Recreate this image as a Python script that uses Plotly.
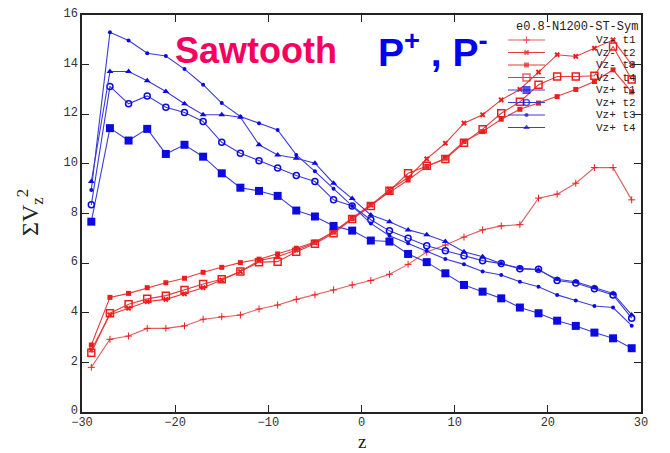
import plotly.graph_objects as go

# Position along z (bin centres)
z = list(range(-29, 30, 2))

# Sigma Vz^2 for the negative-velocity populations (Vz-)
vzm_t1 = [1.80, 2.93, 3.06, 3.37, 3.37, 3.47, 3.74, 3.84, 3.91, 4.15, 4.31, 4.54, 4.72, 4.92, 5.12,
          5.30, 5.55, 5.95, 6.45, 6.73, 7.05, 7.34, 7.50, 7.55, 8.62, 8.78, 9.22, 9.85, 9.85, 8.55]
vzm_t2 = [2.50, 3.92, 4.18, 4.45, 4.54, 4.76, 5.01, 5.32, 5.66, 6.10, 6.26, 6.53, 6.82, 7.27, 7.80,
          8.35, 8.95, 9.45, 10.20, 10.83, 11.64, 11.98, 12.58, 13.00, 13.70, 14.40, 14.33, 14.66, 15.00, 14.00]
vzm_t3 = [2.70, 4.62, 4.78, 5.01, 5.21, 5.39, 5.63, 5.83, 6.02, 6.16, 6.37, 6.60, 6.85, 7.25, 7.80,
          8.35, 8.85, 9.35, 9.90, 10.23, 10.90, 11.30, 11.80, 12.20, 12.45, 12.71, 13.00, 13.32, 13.79, 12.90]
vzm_t4 = [2.39, 3.98, 4.34, 4.56, 4.69, 4.92, 5.16, 5.35, 5.66, 6.04, 6.06, 6.46, 6.78, 7.20, 7.78,
          8.30, 8.92, 9.62, 9.92, 10.20, 10.85, 11.40, 12.04, 12.50, 13.19, 13.52, 13.52, 13.55, 14.73, 13.40]

# Sigma Vz^2 for the positive-velocity populations (Vz+)
vzp_t1 = [7.67, 11.44, 10.94, 11.41, 10.40, 10.77, 10.29, 9.62, 9.04, 8.91, 8.71, 8.12, 7.88, 7.50, 7.31,
          6.91, 6.87, 6.37, 6.04, 5.59, 5.12, 4.85, 4.58, 4.21, 3.98, 3.68, 3.47, 3.20, 2.97, 2.57]
vzp_t2 = [8.35, 13.12, 12.42, 12.74, 12.28, 12.07, 11.71, 10.87, 10.43, 10.13, 9.83, 9.53, 9.29, 8.55, 8.30,
          7.75, 7.30, 7.00, 6.70, 6.50, 6.30, 6.10, 5.98, 5.77, 5.75, 5.30, 5.20, 4.97, 4.72, 3.78]
vzp_t3 = [8.95, 15.30, 14.97, 14.46, 14.35, 13.82, 13.19, 12.45, 11.91, 11.64, 11.37, 10.36, 9.70, 9.00, 8.30,
          7.60, 7.10, 6.80, 6.50, 6.17, 5.95, 5.66, 5.52, 5.25, 5.05, 4.72, 4.49, 4.27, 4.21, 3.48]
vzp_t4 = [9.29, 13.72, 13.72, 13.35, 12.92, 12.42, 11.98, 11.98, 11.88, 10.77, 10.36, 10.23, 10.03, 9.22, 8.60,
          7.94, 7.67, 7.34, 7.14, 6.87, 6.46, 6.26, 5.98, 5.80, 5.72, 5.35, 5.25, 5.02, 4.78, 3.91]

names = ["Vz- t1", "Vz- t2", "Vz- t3", "Vz- t4", "Vz+ t1", "Vz+ t2", "Vz+ t3", "Vz+ t4"]
series = [vzm_t1, vzm_t2, vzm_t3, vzm_t4, vzp_t1, vzp_t2, vzp_t3, vzp_t4]

RED_LINE = "rgb(228,60,60)"
RED = "rgb(235,30,30)"
BLUE_LINE = "rgb(60,60,215)"
BLUE = "rgb(10,10,225)"

styles = [
    dict(lc="rgb(225,95,95)", m=dict(symbol="cross-thin", size=5, color=RED, line=dict(color=RED, width=1))),
    dict(lc=RED_LINE, m=dict(symbol="x", size=5, color=RED, line=dict(width=0))),
    dict(lc=RED_LINE, m=dict(symbol="square", size=5, color=RED, line=dict(width=0))),
    dict(lc=RED_LINE, m=dict(symbol="square-open", size=7, color=RED, line=dict(color=RED, width=1.5))),
    dict(lc=BLUE_LINE, m=dict(symbol="square", size=8, color=BLUE, line=dict(width=0))),
    dict(lc=BLUE_LINE, m=dict(symbol="circle-open", size=6, color=BLUE, line=dict(color=BLUE, width=1.5))),
    dict(lc=BLUE_LINE, m=dict(symbol="circle", size=4, color=BLUE, line=dict(width=0))),
    dict(lc=BLUE_LINE, m=dict(symbol="triangle-up", size=6, color=BLUE, line=dict(width=0))),
]

fig = go.Figure()

for name, vals, st in zip(names, series, styles):
    fig.add_trace(go.Scatter(
        x=z, y=vals, mode="lines+markers", name=name,
        line=dict(color=st["lc"], width=1.1),
        marker=st["m"], showlegend=False,
    ))

# Frame geometry (pixels) and helpers to place items in frame units
W, H = 670, 453
L, R, T, B = 82, 29, 15, 41
pw, ph = W - L - R, H - T - B


def fx(px):
    return (px - L) / pw


def fy(py):
    return (H - B - py) / ph


# Key in the upper right corner of the frame, drawn on an overlay axis
key_rows = [40, 52.5, 65, 77.5, 90, 102.5, 115, 127.5]
for name, st, py in zip(names, styles, key_rows):
    yk = fy(py)
    fig.add_trace(go.Scatter(
        x=[fx(508), fx(526.5), fx(545)], y=[yk, yk, yk],
        mode="lines+markers", xaxis="x2", yaxis="y2", showlegend=False, hoverinfo="skip",
        line=dict(color=st["lc"], width=1.1),
        marker=dict(st["m"], size=[0, st["m"]["size"], 0]),
    ))
    fig.add_annotation(
        x=fx(638), y=yk, xref="x2", yref="y2", text=name, showarrow=False,
        xanchor="right", yanchor="middle",
        font=dict(family="Liberation Mono", size=11, color="#222"),
    )

fig.add_annotation(
    x=fx(640), y=fy(27), xref="x2", yref="y2", text="e0.8-N1200-ST-Sym", showarrow=False,
    xanchor="right", yanchor="middle",
    font=dict(family="Liberation Mono", size=12, color="#222"),
)

# Headline labels
fig.add_annotation(
    x=fx(173), y=fy(51), xref="paper", yref="paper", text="<b>Sawtooth</b>", showarrow=False,
    xanchor="left", yanchor="middle",
    font=dict(family="Liberation Sans", size=36, color="rgb(245,0,95)"),
)

fig.add_annotation(
    x=fx(376), y=fy(49), xref="paper", yref="paper",
    text="<b>P<sup>+</sup> , P<sup>-</sup></b>", showarrow=False,
    xanchor="left", yanchor="middle",
    font=dict(family="Liberation Sans", size=39, color="rgb(0,0,245)"),
)

# Axis titles
fig.add_annotation(
    x=fx(362), y=fy(442), xref="paper", yref="paper", text="z", showarrow=False,
    xanchor="center", yanchor="middle", borderpad=0,
    font=dict(family="Liberation Serif", size=19, color="#222"),
)
fig.add_annotation(
    x=fx(30), y=fy(213), xref="paper", yref="paper",
    text="ΣV<sub>z</sub><sup>2</sup>", showarrow=False, textangle=-90,
    xanchor="center", yanchor="middle",
    font=dict(family="Liberation Serif", size=24, color="#222"),
)

tick_font = dict(family="Liberation Mono", size=12, color="#333")

fig.update_layout(
    width=W, height=H,
    margin=dict(l=L, r=R, t=T, b=B, autoexpand=False),
    paper_bgcolor="white", plot_bgcolor="white",
    showlegend=False,
    xaxis=dict(
        range=[-30, 30], tickvals=[-30, -20, -10, 0, 10, 20, 30],
        ticks="inside", ticklen=7, tickwidth=1, tickcolor="#222",
        showline=True, linecolor="#222", linewidth=1.5, mirror="ticks",
        showgrid=False, zeroline=False, tickfont=tick_font, automargin=False,
        ticklabelstandoff=-2,
    ),
    yaxis=dict(
        range=[0, 16], tickvals=[0, 2, 4, 6, 8, 10, 12, 14, 16],
        ticks="inside", ticklen=7, tickwidth=1, tickcolor="#222",
        showline=True, linecolor="#222", linewidth=1.5, mirror="ticks",
        showgrid=False, zeroline=False, tickfont=tick_font, automargin=False,
        ticklabelshift=-2,
    ),
    xaxis2=dict(range=[0, 1], overlaying="x", anchor="y2", visible=False, fixedrange=True),
    yaxis2=dict(range=[0, 1], overlaying="y", anchor="x2", visible=False, fixedrange=True),
)

fig.write_html("out.html")
